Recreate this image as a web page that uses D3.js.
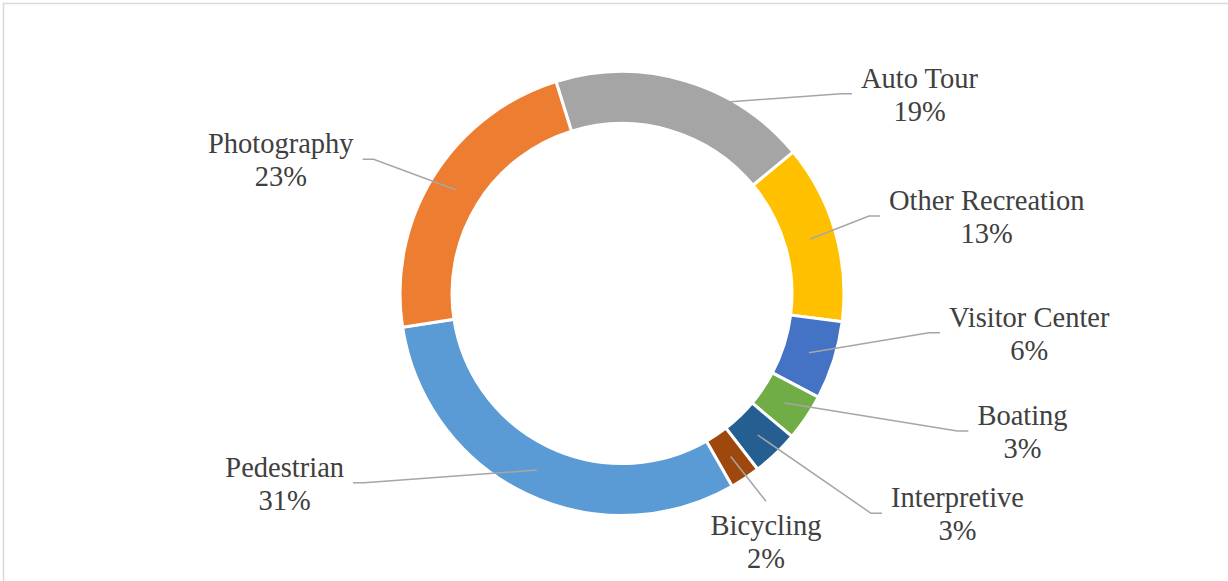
<!DOCTYPE html>
<html>
<head>
<meta charset="utf-8">
<script src="https://cdn.jsdelivr.net/npm/d3@7"></script>
<style>
    body { margin: 0; background: #fff; }
    svg { display: block; }
    .label text { font-family: "Times New Roman", "Liberation Serif", "DejaVu Serif", serif; }
</style>
</head>
<body>
<div id="chart"></div>
<script>
// activity shares, clockwise from the top
var categories = ["Auto Tour", "Other Recreation", "Visitor Center", "Boating", "Interpretive", "Bicycling", "Pedestrian", "Photography"];
var values = [18.8, 13.0, 5.7, 3.4, 3.4, 2.2, 30.8, 22.6];
var colors = ["#a5a5a5", "#ffc000", "#4472c4", "#70ad47", "#255e91", "#9e480e", "#5b9bd5", "#ed7d31"];

// where each label block sits (centre x, middle y) and which side the leader comes from
var labelX = [919.5, 986.7, 1029.2, 1022.5, 957.5, 766, 284.7, 280.8];
var labelY = [93.7, 216, 332.7, 431, 513.3, 541.3, 482.7, 159.3];
var labelSide = ["right", "right", "right", "right", "right", "below", "left", "left"];

var width = 1228, height = 581;
var cx = 622, cy = 293.5;
var outerR = 222, innerR = 170;
var startDeg = -17.3;

var svg = d3.select("#chart").append("svg")
    .attr("width", width)
    .attr("height", height);

// chart area frame (runs off the right and bottom edge)
svg.append("rect")
    .attr("x", 3.5)
    .attr("y", 3.5)
    .attr("width", width + 20)
    .attr("height", height + 20)
    .attr("fill", "none")
    .attr("stroke", "#d9d9d9")
    .attr("stroke-width", 1.5);

var total = d3.sum(values);
var items = categories.map(function(c, i) {
    return { name: c, value: values[i], color: colors[i], lx: labelX[i], ly: labelY[i], side: labelSide[i] };
});

var start = startDeg * Math.PI / 180;
var pie = d3.pie()
    .sort(null)
    .value(function(d) { return d.value; })
    .startAngle(start)
    .endAngle(start + 2 * Math.PI);

var arc = d3.arc()
    .innerRadius(innerR)
    .outerRadius(outerR);

var g = svg.append("g").attr("transform", "translate(" + cx + "," + cy + ")");
var arcs = pie(items);

g.selectAll("path.slice")
    .data(arcs)
    .enter().append("path")
    .attr("class", "slice")
    .attr("d", arc)
    .attr("fill", function(d) { return d.data.color; })
    .attr("stroke", "#fff")
    .attr("stroke-width", 3);

// labels first, so we can measure them for the leader lines
var labels = svg.selectAll("g.label")
    .data(arcs)
    .enter().append("g")
    .attr("class", "label");

labels.append("text")
    .attr("class", "name")
    .attr("x", function(d) { return d.data.lx; })
    .attr("y", function(d) { return d.data.ly - 6; })
    .text(function(d) { return d.data.name; });

labels.append("text")
    .attr("class", "pct")
    .attr("x", function(d) { return d.data.lx; })
    .attr("y", function(d) { return d.data.ly + 27; })
    .text(function(d) { return Math.round(d.data.value / total * 100) + "%"; });

labels.selectAll("text")
    .attr("text-anchor", "middle")
    .style("font-size", "28.5px")
    .attr("fill", "#404040");

var line = d3.line();

labels.each(function(d) {
    var node = d3.select(this).select("text.name").node();
    var w = node.getComputedTextLength();
    var c = arc.centroid(d);
    var p0 = [cx + c[0], cy + c[1]];
    var pts;
    if (d.data.side == "right") {
        var endX = d.data.lx - w / 2 - 9;
        pts = [p0, [endX - 11, d.data.ly], [endX, d.data.ly]];
    } else if (d.data.side == "left") {
        var endX2 = d.data.lx + w / 2 + 9;
        pts = [p0, [endX2 + 11, d.data.ly], [endX2, d.data.ly]];
    } else {
        pts = [p0, [d.data.lx, d.data.ly - 40]];
    }
    svg.insert("path", "g.label")
        .attr("d", line(pts))
        .attr("fill", "none")
        .attr("stroke", "#a6a6a6")
        .attr("stroke-width", 1.5);
});
</script>
</body>
</html>
